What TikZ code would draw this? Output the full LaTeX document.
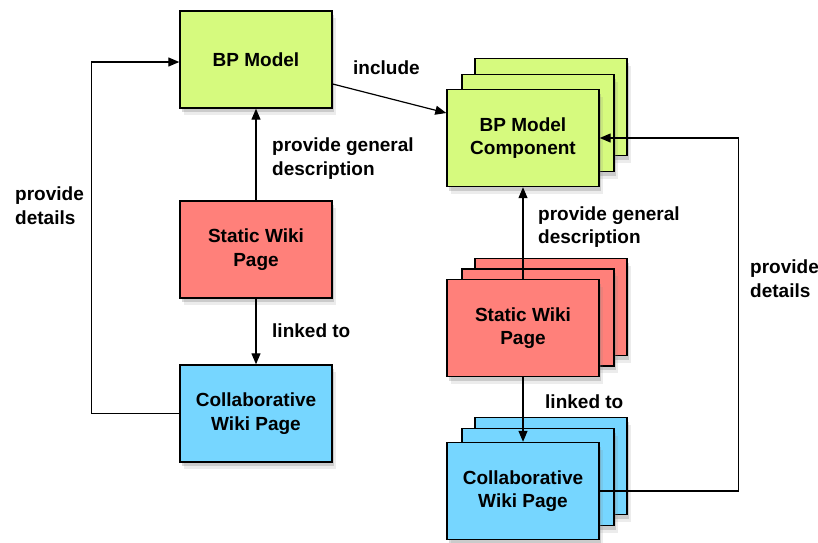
\documentclass[tikz,border=0pt]{standalone}
\usepackage{fontspec}
\setmainfont{Liberation Sans}
\usetikzlibrary{arrows.meta,shadows,positioning}
\definecolor{bpgreen}{RGB}{214,250,126}
\definecolor{wikired}{RGB}{255,128,122}
\definecolor{wikiblue}{RGB}{118,214,255}
\tikzset{
  box/.style={draw=black, line width=1.4pt, minimum width=152pt, minimum height=97pt,
    inner sep=0pt, align=center, font=\bfseries\fontsize{19}{23.5}\selectfont,
    drop shadow={shadow xshift=2pt,shadow yshift=-4pt,opacity=0.3},
    drop shadow={shadow xshift=4pt,shadow yshift=-7pt,opacity=0.15}},
  lbl/.style={font=\bfseries\fontsize{19}{23.5}\selectfont, align=left, inner sep=0pt, anchor=west},
  conn/.style={draw=black, line width=1.2pt, -{Triangle[length=11pt,width=9pt]}},
  plain/.style={draw=black, line width=1.2pt}
}
\begin{document}
\begin{tikzpicture}[x=1pt,y=-1pt]
\useasboundingbox (0,0) rectangle (818,542);
% left column
\node[box, fill=bpgreen] (bpm) at (256,59.5) {BP Model};
\node[box, fill=wikired] (sw) at (256,249.5) {Static Wiki\\Page};
\node[box, fill=wikiblue] (cw) at (256,413.5) {Collaborative\\Wiki Page};
% right column stacks
\node[box, fill=bpgreen] (compC) at (551,107) {};
\node[box, fill=bpgreen] (compB) at (538,123) {};
\node[box, fill=bpgreen] (comp) at (523,138) {BP Model\\Component};
\node[box, fill=wikired] (swC) at (551,307) {};
\node[box, fill=wikired] (swB) at (538,317.5) {};
\node[box, fill=wikired] (sw2) at (523,328) {Static Wiki\\Page};
\node[box, fill=wikiblue] (cwC) at (551,466) {};
\node[box, fill=wikiblue] (cwB) at (538,477) {};
\node[box, fill=wikiblue] (cw2) at (523,491) {Collaborative\\Wiki Page};
% connectors left
\draw[conn] ([yshift=-24.5pt]bpm.east) -- ([yshift=25pt]comp.west);
\draw[conn] (sw.north) -- (bpm.south);
\draw[conn] (sw.south) -- (cw.north);
\draw[conn] (cw.west) -- ++(-88,0) |- ([yshift=-2.5pt]bpm.west);
% connectors right
\draw[conn] (sw2.north) -- (comp.south);
\draw[conn] (sw2.south) -- (cw2.north);
\draw[conn] (cw2.east) -- ++(139,0) |- (comp.east);
% labels
\node[lbl] (l1) at (353,68) {include};
\node[lbl] (l2) at (272,158.5) {provide general\\description};
\node[lbl] (l3) at (272,331) {linked to};
\node[lbl] (l4) at (15,205.5) {provide\\details};
\node[lbl] (l5) at (538,227) {provide general\\description};
\node[lbl] (l6) at (545,402) {linked to};
\node[lbl] (l7) at (750,278.5) {provide\\details};
\end{tikzpicture}
\end{document}
